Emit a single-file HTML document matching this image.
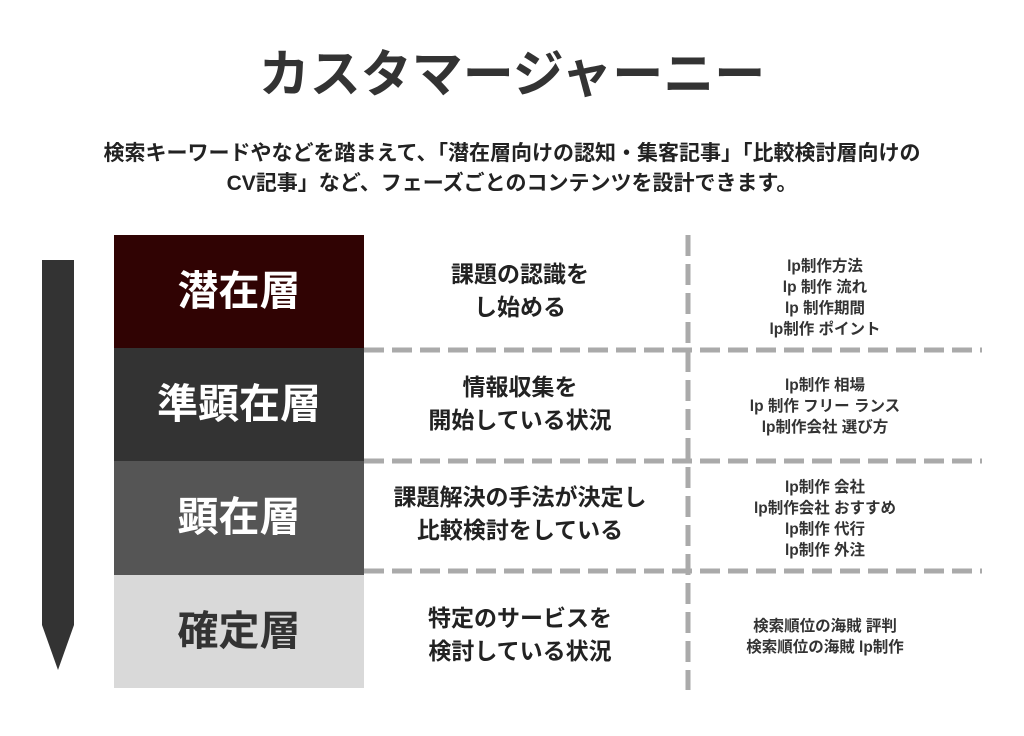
<!DOCTYPE html>
<html><head><meta charset="utf-8"><style>
html,body{margin:0;padding:0;background:#fff;}
body{width:1024px;height:736px;position:relative;overflow:hidden;font-family:"Liberation Sans","Noto Sans CJK JP",sans-serif;font-weight:bold;color:#333;}
.a{position:absolute;white-space:nowrap;}
.box{position:absolute;left:114px;width:250px;display:flex;align-items:center;justify-content:center;font-size:41px;color:#fff;box-sizing:border-box;padding-bottom:10px;}
.mid{position:absolute;left:370px;width:300px;text-align:center;font-size:23px;line-height:33px;color:#222;}
.rt{position:absolute;left:690px;width:270px;text-align:center;font-size:15.5px;line-height:21px;color:#333;}
</style></head><body>
<div class="a" style="left:0;width:1024px;text-align:center;top:40px;font-size:51px;line-height:70px;color:#333;">カスタマージャーニー</div>
<div class="a" style="left:0;width:1024px;text-align:center;top:139px;font-size:21px;line-height:30px;color:#222;">検索キーワードやなどを踏まえて、「潜在層向けの認知・集客記事」「比較検討層向けの<br>CV記事」など、フェーズごとのコンテンツを設計できます。</div>

<svg class="a" style="left:0;top:0" width="1024" height="736">
<polygon points="42,260 74,260 74,625 58,670 42,625" fill="#333"/>
<g stroke="#aaa" stroke-width="5" stroke-dasharray="20 8">
<line x1="364" y1="350" x2="982" y2="350"/>
<line x1="364" y1="461" x2="982" y2="461"/>
<line x1="364" y1="571" x2="982" y2="571"/>
<line x1="688" y1="235" x2="688" y2="690" stroke-dasharray="21 8"/>
</g>
</svg>

<div class="box" style="top:235px;height:113px;background:#300303;">潜在層</div>
<div class="box" style="top:348px;height:113px;background:#333;">準顕在層</div>
<div class="box" style="top:461px;height:114px;background:#555;">顕在層</div>
<div class="box" style="top:575px;height:113px;background:#d9d9d9;color:#333;">確定層</div>

<div class="mid" style="top:258px;">課題の認識を<br>し始める</div>
<div class="mid" style="top:371px;">情報収集を<br>開始している状況</div>
<div class="mid" style="top:481px;">課題解決の手法が決定し<br>比較検討をしている</div>
<div class="mid" style="top:602px;">特定のサービスを<br>検討している状況</div>

<div class="rt" style="top:256px;">lp制作方法<br>lp 制作 流れ<br>lp 制作期間<br>lp制作 ポイント</div>
<div class="rt" style="top:375px;">lp制作 相場<br>lp 制作 フリー ランス<br>lp制作会社 選び方</div>
<div class="rt" style="top:477px;">lp制作 会社<br>lp制作会社 おすすめ<br>lp制作 代行<br>lp制作 外注</div>
<div class="rt" style="top:616px;">検索順位の海賊 評判<br>検索順位の海賊 lp制作</div>
</body></html>
